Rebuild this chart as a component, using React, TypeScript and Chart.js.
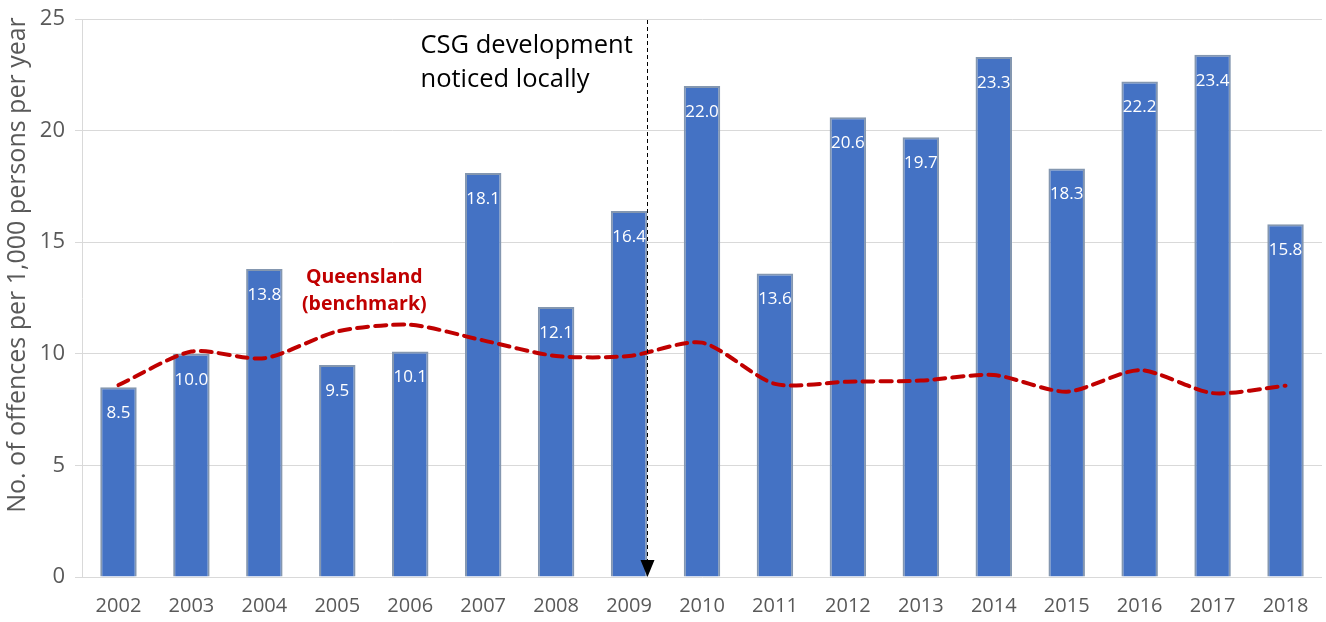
import React, { useEffect, useRef } from "react";
import { Chart, registerables } from "chart.js";

Chart.register(...registerables);

const years = ["2002", "2003", "2004", "2005", "2006", "2007", "2008", "2009", "2010", "2011", "2012", "2013", "2014", "2015", "2016", "2017", "2018"];
const localRates = [8.5, 10.0, 13.8, 9.5, 10.1, 18.1, 12.1, 16.4, 22.0, 13.6, 20.6, 19.7, 23.3, 18.3, 22.2, 23.4, 15.8];
const queenslandRates = [8.6, 10.1, 9.8, 11.0, 11.3, 10.6, 9.9, 9.9, 10.5, 8.65, 8.75, 8.8, 9.05, 8.3, 9.27, 8.24, 8.57];
const yMin = 0;
const yMax = 25;
const yStep = 5;
const axisTitle = "No. of offences per 1,000 persons per year";
const annotationLines = ["CSG development", "noticed locally"];
const benchmarkLines = ["Queensland", "(benchmark)"];
const annotationYearIndex = 7;

const FONT = '"Open Sans", "Noto Sans", sans-serif';

const overlayPlugin = {
  id: "overlay",
  afterDatasetsDraw(chart: any) {
    const { ctx, chartArea } = chart;
    const xs = chart.scales.x;
    const ys = chart.scales.y;
    ctx.save();

    // bar value labels
    const meta = chart.getDatasetMeta(0);
    ctx.font = `17px ${FONT}`;
    ctx.fillStyle = "#ffffff";
    ctx.textAlign = "center";
    ctx.textBaseline = "middle";
    meta.data.forEach((bar: any, i: number) => {
      ctx.fillText(localRates[i].toFixed(1), bar.x, bar.y + 26);
    });

    // annotation arrow
    const bar = meta.data[annotationYearIndex] as any;
    const ax = Math.round(bar.x + bar.width / 2) + 0.5;
    const bottom = chartArea.bottom;
    ctx.strokeStyle = "#000000";
    ctx.lineWidth = 1;
    ctx.setLineDash([4, 3]);
    ctx.beginPath();
    ctx.moveTo(ax, chartArea.top + 1);
    ctx.lineTo(ax, bottom - 16);
    ctx.stroke();
    ctx.setLineDash([]);
    ctx.fillStyle = "#000000";
    ctx.beginPath();
    ctx.moveTo(ax - 7, bottom - 17);
    ctx.lineTo(ax + 7, bottom - 17);
    ctx.lineTo(ax, bottom);
    ctx.closePath();
    ctx.fill();

    // annotation text
    ctx.font = `25.5px ${FONT}`;
    ctx.textAlign = "left";
    ctx.fillStyle = "#000000";
    ctx.fillText(annotationLines[0], ax - 227, ys.getPixelForValue(23.8));
    ctx.fillText(annotationLines[1], ax - 227, ys.getPixelForValue(22.3));

    // benchmark label
    ctx.font = `bold 19.5px ${FONT}`;
    ctx.fillStyle = "#c00000";
    ctx.textAlign = "center";
    const bx = xs.getPixelForValue(3.37);
    ctx.fillText(benchmarkLines[0], bx, ys.getPixelForValue(13.4));
    ctx.fillText(benchmarkLines[1], bx, ys.getPixelForValue(12.2));

    // y-axis title
    ctx.save();
    ctx.translate(18, 265);
    ctx.rotate(-Math.PI / 2);
    ctx.font = `25px ${FONT}`;
    ctx.fillStyle = "#595959";
    ctx.textAlign = "center";
    ctx.fillText(axisTitle, 0, 0);
    ctx.restore();

    ctx.restore();
  },
};

export default function App() {
  const canvasRef = useRef<HTMLCanvasElement | null>(null);

  useEffect(() => {
    if (!canvasRef.current) return;
    const chart = new Chart(canvasRef.current, {
      type: "bar",
      data: {
        labels: years,
        datasets: [
          {
            type: "bar",
            label: "Local",
            data: localRates,
            backgroundColor: "#4472c4",
            borderColor: "#8497b0",
            borderWidth: 2,
            barPercentage: 0.5,
            categoryPercentage: 1,
            order: 2,
          },
          {
            type: "line",
            label: "Queensland (benchmark)",
            data: queenslandRates,
            borderColor: "#c00000",
            borderWidth: 4,
            borderDash: [11, 7],
            borderCapStyle: "round",
            tension: 0.25,
            pointRadius: 0,
            fill: false,
            order: 1,
          } as any,
        ],
      },
      options: {
        animation: false,
        responsive: false,
        maintainAspectRatio: false,
        layout: { padding: { top: 19, right: 4, bottom: 0, left: 0 } },
        plugins: {
          legend: { display: false },
          tooltip: { enabled: false },
        },
        scales: {
          x: {
            grid: { display: false, drawTicks: false },
            border: { display: false },
            ticks: {
              color: "#595959",
              font: { size: 20, family: FONT },
              padding: 17,
              maxRotation: 0,
            },
            afterFit(scale: any) {
              scale.height = 45;
              scale.paddingLeft = 0;
              scale.paddingRight = 0;
            },
          },
          y: {
            min: yMin,
            max: yMax,
            ticks: {
              stepSize: yStep,
              color: "#595959",
              font: { size: 22, family: FONT },
              padding: 10,
            },
            grid: { color: "#d9d9d9", lineWidth: 1, tickLength: 7 },
            border: { display: true, color: "#d9d9d9", width: 1 },
            afterFit(scale: any) {
              scale.width = 82;
              scale.paddingTop = 0;
              scale.paddingBottom = 0;
            },
          },
        },
      },
      plugins: [overlayPlugin],
    });
    return () => chart.destroy();
  }, []);

  return (
    <div style={{ position: "fixed", left: 0, top: 0, width: 1326, height: 622, background: "#ffffff" }}>
      <canvas ref={canvasRef} width={1326} height={622} style={{ width: 1326, height: 622 }} />
    </div>
  );
}
